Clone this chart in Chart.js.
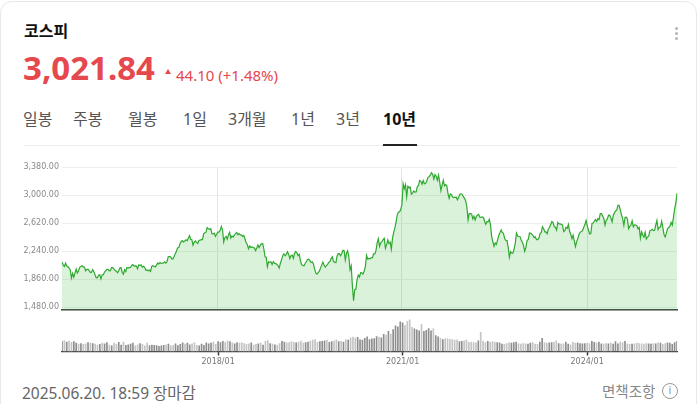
<!DOCTYPE html>
<html><head><meta charset="utf-8">
<script src="https://cdn.jsdelivr.net/npm/chart.js@4.4.1/dist/chart.umd.min.js"></script>
<style>
html,body{margin:0;padding:0;background:#fff;width:700px;height:404px;overflow:hidden;}
body{font-family:"Noto Sans","Noto Sans CJK KR",sans-serif;position:relative;}
.card{position:absolute;left:0;top:1px;width:697px;height:520px;border:1px solid #e8e8e8;border-radius:12px;box-sizing:border-box;}
.t{position:absolute;line-height:1;white-space:nowrap;}
.tab{position:absolute;top:111px;font-size:16px;line-height:1;color:#555;white-space:nowrap;}
.dot{position:absolute;left:675px;width:3px;height:3px;border-radius:50%;background:#b5b5b5;}
</style></head>
<body>
<div class="card"></div>
<div class="dot" style="top:27px"></div><div class="dot" style="top:32px"></div><div class="dot" style="top:37px"></div>

<div class="t" style="left:24px;top:23px;font-size:16px;font-weight:700;color:#111">코스피</div>
<div class="t" style="left:23px;top:51px;font-size:33px;font-weight:700;color:#e5484d">3,021.84</div>
<div style="position:absolute;left:165px;top:69px;width:0;height:0;border-left:3px solid transparent;border-right:3px solid transparent;border-bottom:5px solid #e5484d"></div>
<div class="t" style="left:176px;top:67.5px;font-size:15px;color:#e5484d">44.10 (+1.48%)</div>

<div class="tab" style="left:23px">일봉</div>
<div class="tab" style="left:73px">주봉</div>
<div class="tab" style="left:128px">월봉</div>
<div class="tab" style="left:183px">1일</div>
<div class="tab" style="left:228px">3개월</div>
<div class="tab" style="left:291px">1년</div>
<div class="tab" style="left:336px">3년</div>
<div class="tab" style="left:383px;color:#111;font-weight:700">10년</div>
<div style="position:absolute;left:24px;top:145px;width:656px;height:1px;background:#ececec"></div>
<div style="position:absolute;left:383px;top:144px;width:34px;height:2px;background:#222"></div>

<canvas id="price" width="690" height="168" style="position:absolute;left:0;top:150px;width:690px;height:168px"></canvas>
<canvas id="vol" width="690" height="62" style="position:absolute;left:0;top:314px;width:690px;height:62px"></canvas>

<div class="t" style="left:22px;top:385.5px;font-size:15.5px;color:#666">2025.06.20. 18:59 장마감</div>
<div class="t" style="left:602px;top:384px;font-size:14.5px;color:#888">면책조항</div>
<div style="position:absolute;left:662px;top:383px;width:14px;height:14px;border:1.3px solid #999;border-radius:50%;font-size:10px;line-height:14px;text-align:center;color:#888;font-family:'DejaVu Sans',sans-serif">i</div>

<script>
// Weekly KOSPI closes (Friday), grouped by year
const years = [2015,2016,2017,2018,2019,2020,2021,2022,2023,2024,2025];
const p2015 = [2090,2053,2032,2076,2038,2030,2010,1983,1876,1937,1886,1941,1995,1942,1969,2020,2030,2040,2029,2020,1973,1990,1994,1974,1949,1954,1990];
const p2016 = [1961,1918,1878,1879,1912,1917,1862,1916,1920,1955,1971,1992,1993,1972,1973,2015,2015,1994,1977,1967,1947,1969,2011,2017,1953,1925,1987,1963,2017,2010,2016,2017,2044,2056,2037,2038,2037,1999,2053,2043,2054,2022,2033,2019,1982,1984,1974,1984,1964,2031,2042,2035,2026];
const p2017 = [2049,2076,2065,2083,2073,2075,2080,2094,2078,2098,2164,2168,2160,2134,2134,2165,2205,2241,2285,2288,2342,2371,2381,2361,2378,2392,2379,2414,2450,2400,2395,2319,2358,2378,2357,2343,2386,2388,2394,2394,2473,2489,2496,2557,2542,2534,2544,2476,2474,2482,2440,2467];
const p2018 = [2497,2496,2521,2574,2525,2363,2421,2440,2402,2459,2494,2416,2445,2429,2455,2476,2492,2461,2477,2460,2460,2438,2451,2404,2357,2326,2272,2310,2289,2295,2287,2282,2247,2282,2322,2287,2318,2339,2343,2268,2161,2156,2027,2096,2086,2093,2057,2096,2075,2069,2061,2041];
const p2019 = [2010,2076,2124,2177,2203,2177,2196,2230,2195,2138,2176,2186,2141,2209,2233,2216,2179,2196,2108,2055,2045,2041,2072,2095,2126,2130,2110,2086,2094,2066,1998,1943,1927,1948,1967,2009,2049,2091,2050,2021,2044,2060,2085,2100,2137,2162,2101,2087,2081,2170,2204,2204];
const p2020 = [2176,2206,2250,2246,2119,2211,2243,2162,1987,2040,1771,1566,1717,1725,1860,1914,1889,1947,1945,1927,1970,2029,2181,2132,2141,2134,2152,2150,2202,2201,2249,2351,2407,2304,2353,2368,2396,2413,2279,2327,2391,2341,2360,2267,2416,2493,2553,2633,2731,2770,2772,2806];
const p2021 = [2873,3152,3085,3140,2976,3120,3100,3107,3013,3026,3054,3039,3041,3112,3131,3198,3186,3147,3197,3153,3156,3188,3240,3249,3268,3302,3281,3217,3276,3254,3202,3270,3171,3060,3133,3201,3125,3140,3125,3019,2956,3015,3006,2970,2969,2968,2971,2936,2968,3010,3017,3012,2977];
const p2022 = [2954,2921,2834,2663,2750,2747,2744,2676,2713,2661,2707,2729,2739,2700,2696,2704,2695,2644,2604,2639,2638,2670,2595,2440,2366,2305,2350,2330,2393,2451,2490,2527,2492,2481,2409,2384,2382,2290,2155,2232,2212,2213,2268,2348,2483,2444,2437,2434,2389,2360,2313,2236];
const p2023 = [2289,2386,2395,2484,2480,2469,2451,2423,2432,2394,2395,2414,2477,2490,2571,2544,2501,2500,2475,2537,2559,2601,2641,2625,2570,2564,2526,2628,2609,2608,2602,2591,2504,2519,2563,2547,2601,2508,2465,2408,2456,2375,2302,2368,2409,2469,2496,2505,2517,2563,2599,2655];
const p2024 = [2578,2525,2473,2478,2615,2620,2648,2667,2642,2681,2666,2748,2747,2714,2681,2591,2656,2676,2727,2724,2687,2636,2722,2758,2784,2797,2862,2857,2795,2731,2676,2588,2697,2701,2674,2544,2575,2593,2649,2569,2596,2593,2583,2542,2561,2416,2501,2455,2428,2494,2404,2430];
const p2025 = [2441,2515,2523,2536,2517,2521,2591,2654,2532,2563,2566,2643,2557,2465,2432,2483,2546,2559,2577,2627,2592,2697,2812,2894,3021.84];

// Bi-weekly volume (million shares), grouped by year
const v2015 = [3300,3600,3100,3400,3000,3200,2700,2400,2600,2300,2500,2900,2700,2600];
const v2016 = [2400,2100,2300,2700,2500,2900,2100,1800,2700,2400,3000,2100,3100,2000,2200,2400,2700,1800,2200,2600,2300,1800,2700,1900,2100,2000];
const v2017 = [1900,1700,1800,2000,2200,2400,1800,2000,2500,1900,2300,2800,2400,2700,2200,2500,2900,2000,1800,2400,2000,2800,2500,2700,3100,2300];
const v2018 = [3200,2900,3300,3000,3500,3200,2800,2500,2900,2700,2800,2600,2300,2500,2800,2100,2300,2500,2700,2100,3300,3600,2600,2400,2200,2100];
const v2019 = [2600,3300,3100,2800,2900,3200,3000,2800,3100,3400,2700,2900,3100,3400,3700,3900,3000,3200,3300,3500,3700,3000,3200,3500,3800,3200];
const v2020 = [3300,3100,3900,3700,4500,4700,4400,4600,3800,3700,4300,4800,3900,4100,4200,4900,4700,4500,5600,5400,6600,5700,7200,8400,8100,9700];
const v2021 = [9400,8600,9800,10400,7900,7400,7100,6800,8900,6600,6900,7500,6800,7400,5200,4800,4300,3900,4100,4200,4000,3900,3700,3800,3200,3300];
const v2022 = [3500,3700,3000,3100,2900,2800,3500,6300,3400,2900,3300,3000,3200,3000,2900,2800,2400,2300,2600,2800,2700,2900,3100,2500,2400,2600];
const v2023 = [2500,2400,2700,2900,2400,2300,3100,4300,2900,2700,2800,2900,3100,3500,2600,2400,2500,3100,2400,2200,3000,2700,2800,2600,2500,2600];
const v2024 = [2700,2600,3300,3000,2800,3100,2500,2400,2600,2500,2700,2400,3200,2500,3100,2900,3300,2500,2300,2400,2500,2700,2600,2500,2400,2600];
const v2025 = [2500,2400,2600,2500,2800,2700,2300,2600,2800,2700,2300,2900,3300];

const yTicks = [1480,1860,2240,2620,3000,3380];
const xTickLabels = ['2018/01','2021/01','2024/01'];

const priceByYear = [p2015,p2016,p2017,p2018,p2019,p2020,p2021,p2022,p2023,p2024,p2025];
const volByYear = [v2015,v2016,v2017,v2018,v2019,v2020,v2021,v2022,v2023,v2024,v2025];

const labels = [], prices = [];
years.forEach((yr,k)=>{
  priceByYear[k].forEach((v,i)=>{
    labels.push(i===0 ? (yr===2015 ? '2015/06' : yr+'/01') : yr+'#'+i);
    prices.push(v);
  });
});
const volLabels = [], volumes = [];
years.forEach((yr,k)=>{
  volByYear[k].forEach((v,i)=>{
    volLabels.push(i===0 ? (yr===2015 ? '2015/06' : yr+'/01') : yr+'#'+i);
    volumes.push(v);
  });
});
// bar shade: darker when the index rose over the period, lighter when it fell
const volColors = volumes.map((v,j)=>{
  const w = Math.round(j*(prices.length-1)/(volumes.length-1));
  const prev = prices[Math.max(w-2,0)];
  return prices[w] >= prev ? '#8e8e8e' : '#c4c4c4';
});

function keepTicks(lbls){
  return scale => { scale.ticks = scale.ticks.filter(t => xTickLabels.includes(lbls[t.value])); };
}
const fmt = v => v.toLocaleString('en-US',{minimumFractionDigits:2,maximumFractionDigits:2});

Chart.defaults.font.family = "'DejaVu Sans', sans-serif";

new Chart(document.getElementById('price'), {
  type:'line',
  data:{labels, datasets:[{data:prices, borderColor:'#2fa82f', borderWidth:1.2,
    backgroundColor:'rgba(72,190,72,0.2)', fill:'start', pointRadius:0, tension:0}]},
  options:{responsive:false, animation:false, events:[],
    layout:{padding:{left:22,right:13,top:17,bottom:4}},
    plugins:{legend:{display:false},tooltip:{enabled:false}},
    scales:{
      x:{type:'category', offset:false, afterBuildTicks:keepTicks(labels),
         ticks:{display:false}, grid:{color:'#e4e4e4', drawTicks:false, offset:false},
         border:{display:true, color:'#3c3c3c', width:1.5}},
      y:{min:1438, max:3380,
         afterBuildTicks:s=>{ s.ticks = yTicks.map(v=>({value:v})); },
         afterFit:s=>{ s.width = 40; },
         ticks:{padding:3, color:'#8a8a8a', font:{size:8}, callback:v=>fmt(v)},
         grid:{color:'#eeeeee', drawTicks:false}, border:{display:false}}
    }}
});

new Chart(document.getElementById('vol'), {
  type:'bar',
  data:{labels:volLabels, datasets:[{data:volumes, backgroundColor:volColors, borderWidth:0,
    barThickness:1}]},
  options:{responsive:false, animation:false, events:[],
    layout:{padding:{left:62,right:13,top:4,bottom:7}},
    plugins:{legend:{display:false},tooltip:{enabled:false}},
    scales:{
      x:{type:'category', offset:false, afterBuildTicks:keepTicks(volLabels),
         ticks:{color:'#777', font:{size:8}, padding:2, maxRotation:0, autoSkip:false},
         grid:{drawOnChartArea:false, drawTicks:true, tickLength:4, tickColor:'#333', tickWidth:1.5, offset:false},
         border:{display:true, color:'#3c3c3c', width:1.2}},
      y:{display:false, min:0, max:11000}
    }}
});
</script>
</body></html>
